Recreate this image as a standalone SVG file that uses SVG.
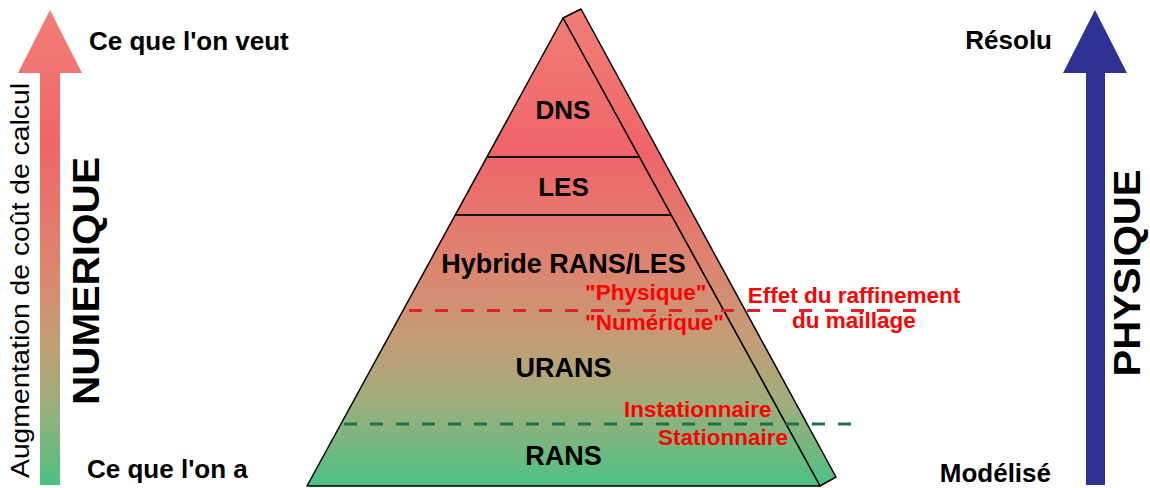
<svg xmlns="http://www.w3.org/2000/svg" width="1150" height="488" viewBox="0 0 1150 488">
<defs>
<linearGradient id="gPyr" gradientUnits="userSpaceOnUse" x1="0" y1="9" x2="0" y2="486">
<stop offset="0" stop-color="#f07f76"/>
<stop offset="0.3" stop-color="#f0656a"/>
<stop offset="0.55" stop-color="#dc8670"/>
<stop offset="0.7" stop-color="#c29e76"/>
<stop offset="0.83" stop-color="#9eae7c"/>
<stop offset="1" stop-color="#4cc183"/>
</linearGradient>
<linearGradient id="gArrow" gradientUnits="userSpaceOnUse" x1="0" y1="10" x2="0" y2="485">
<stop offset="0" stop-color="#f07f76"/>
<stop offset="0.28" stop-color="#f0656a"/>
<stop offset="0.55" stop-color="#dc8670"/>
<stop offset="0.7" stop-color="#c29e76"/>
<stop offset="0.83" stop-color="#9eae7c"/>
<stop offset="1" stop-color="#4cc183"/>
</linearGradient>
<style>
.lbl{font-family:"Liberation Sans",Arial,sans-serif;font-weight:bold;fill:#000}
.red{font-family:"Liberation Sans",Arial,sans-serif;font-weight:bold;fill:#ff0000;font-size:22.5px}
.face{fill:url(#gPyr);stroke:#000;stroke-width:1.5;stroke-linejoin:round}
.div{stroke:#111;stroke-width:2}
</style>
</defs>
<rect width="1150" height="488" fill="#fff"/>

<g id="left-arrow">
<polygon points="50,10 82,73 60,73 60,485 40,485 40,73 18,73" fill="url(#gArrow)"/>
<text class="lbl" x="89" y="50" font-size="26">Ce que l'on veut</text>
<text class="lbl" x="87" y="478" font-size="26">Ce que l'on a</text>
<text class="lbl" font-size="26" font-weight="normal" style="font-weight:normal" text-anchor="middle" textLength="395" lengthAdjust="spacingAndGlyphs" transform="translate(29,280.5) rotate(-90)">Augmentation de coût de calcul</text>
<text class="lbl" font-size="37" text-anchor="middle" textLength="248" lengthAdjust="spacingAndGlyphs" transform="translate(99,281) rotate(-90)">NUMERIQUE</text>
</g>

<g id="right-arrow">
<polygon points="1095,10 1127,73 1105,73 1105,485 1086,485 1086,73 1063,73" fill="#2e3192"/>
<text class="lbl" x="1052" y="49" font-size="26" text-anchor="end">Résolu</text>
<text class="lbl" x="1051" y="482" font-size="26" text-anchor="end">Modélisé</text>
<text class="lbl" font-size="36" text-anchor="middle" textLength="207" lengthAdjust="spacingAndGlyphs" transform="translate(1140,273) rotate(-90)">PHYSIQUE</text>
</g>

<g id="pyramid">
<polygon class="face" points="563,18 581,9 836,477 820,486"/>
<polygon class="face" points="563,18 820,486 307,486"/>
<line class="div" x1="488" y1="157" x2="639" y2="157"/>
<line class="div" x1="456" y1="215" x2="672" y2="215"/>
</g>

<g id="dns"><text class="lbl" x="563" y="119" font-size="26" text-anchor="middle">DNS</text></g>
<g id="les"><text class="lbl" x="563.5" y="196" font-size="26" text-anchor="middle">LES</text></g>
<g id="hybride"><text class="lbl" x="563.5" y="273" font-size="27" text-anchor="middle">Hybride RANS/LES</text></g>
<g id="urans"><text class="lbl" x="563.5" y="377" font-size="27" text-anchor="middle">URANS</text></g>
<g id="rans"><text class="lbl" x="563.5" y="465" font-size="27" text-anchor="middle">RANS</text></g>

<g id="connectors">
<line x1="409" y1="310.5" x2="920" y2="310.5" stroke="#e3202e" stroke-width="3" stroke-dasharray="13 13"/>
<line x1="344" y1="424" x2="854" y2="424" stroke="#21714a" stroke-width="3" stroke-dasharray="13 13"/>
</g>

<g id="annotations">
<text class="red" x="585" y="300">"Physique"</text>
<text class="red" x="585" y="330">"Numérique"</text>
<text class="red" x="624" y="417">Instationnaire</text>
<text class="red" x="658" y="445">Stationnaire</text>
<text class="red" x="854" y="303" text-anchor="middle">Effet du raffinement</text>
<text class="red" x="854" y="328" text-anchor="middle">du maillage</text>
</g>
</svg>
